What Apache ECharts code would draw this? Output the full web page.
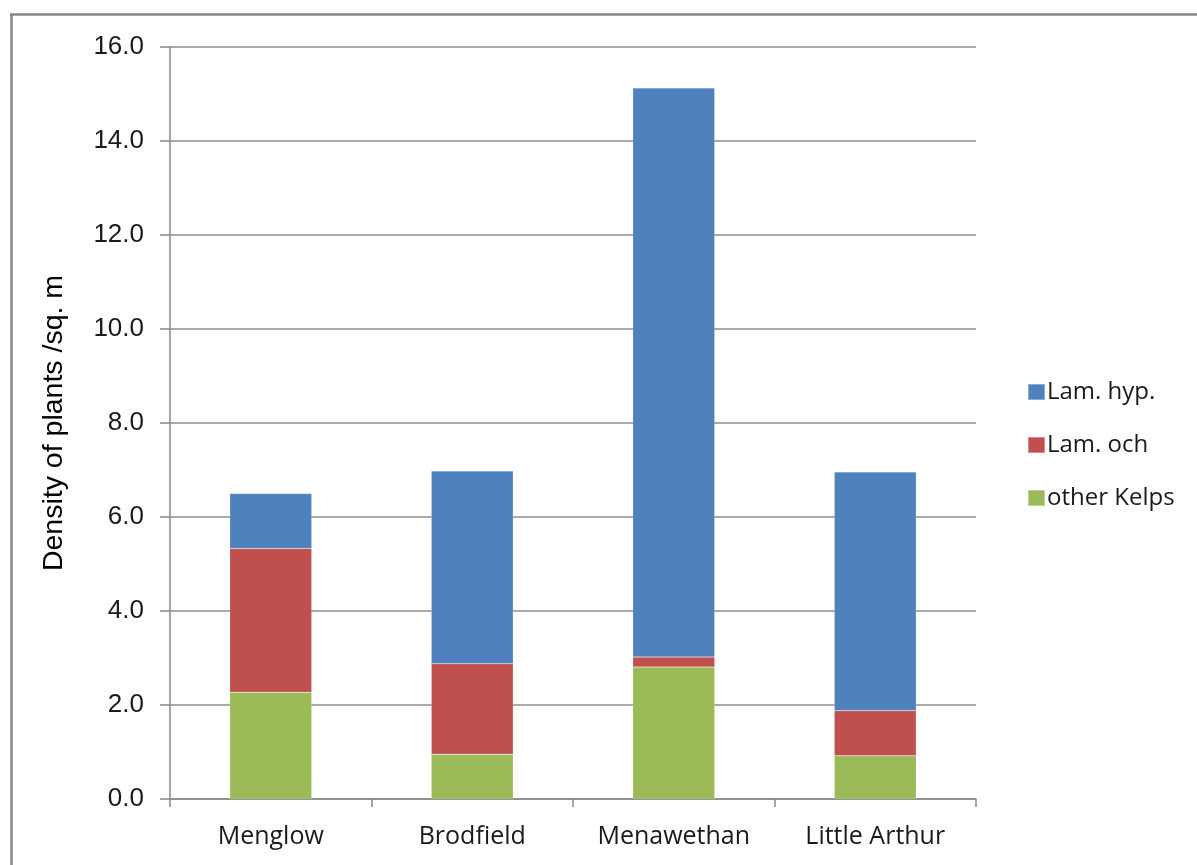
<!DOCTYPE html>
<html>
<head>
<meta charset="utf-8">
<script src="https://cdn.jsdelivr.net/npm/echarts@6/dist/echarts.min.js"></script>
<style>
  html, body { margin: 0; padding: 0; background: #ffffff; }
  #chart { width: 1197px; height: 865px; }
</style>
</head>
<body>
<div id="chart"></div>
<script>
// Kelp plant density per site, stacked by species group
const sites = ['Menglow', 'Brodfield', 'Menawethan', 'Little Arthur'];
const otherKelps = [2.27, 0.95, 2.81, 0.92];
const lamOch = [3.06, 1.93, 0.21, 0.96];
const lamHyp = [1.17, 4.10, 12.11, 5.08];
const yTicks = [0, 2, 4, 6, 8, 10, 12, 14, 16];

const chart = echarts.init(document.getElementById('chart'), null, { renderer: 'canvas' });

const labelFont = '"Open Sans", Lato, sans-serif';
const numFont = '"Liberation Sans", Arial, sans-serif';

const barStyle = (color) => ({
  color: color,
  borderColor: 'rgba(255,255,255,0.35)',
  borderWidth: 0.5
});

chart.setOption({
  animation: false,
  backgroundColor: '#ffffff',
  grid: { left: 170, top: 47, width: 806, height: 752, containLabel: false },
  legend: {
    orient: 'vertical',
    left: 1022,
    top: 375,
    itemWidth: 17,
    itemHeight: 16,
    itemGap: 29,
    icon: 'rect',
    data: ['Lam. hyp.', 'Lam. och', 'other Kelps'],
    textStyle: { fontFamily: labelFont, fontSize: 24, color: '#1a1a1a', padding: [0, 0, 0, -3] }
  },
  xAxis: {
    type: 'category',
    data: sites,
    axisLine: { lineStyle: { color: '#888888', width: 1.5 } },
    axisTick: { show: true, length: 8, alignWithLabel: false, lineStyle: { color: '#888888', width: 1.5 } },
    axisLabel: { fontFamily: labelFont, fontSize: 25, color: '#1a1a1a', margin: 25 }
  },
  yAxis: {
    type: 'value',
    min: yTicks[0],
    max: yTicks[yTicks.length - 1],
    interval: 2,
    name: 'Density of plants /sq. m',
    nameLocation: 'middle',
    nameGap: 101,
    nameRotate: 90,
    nameTextStyle: { fontFamily: numFont, fontSize: 28.5, color: '#000000' },
    axisLine: { show: true, lineStyle: { color: '#888888', width: 1.5 } },
    axisTick: { show: true, length: 10, lineStyle: { color: '#888888', width: 1.5 } },
    axisLabel: {
      fontFamily: numFont, fontSize: 26, color: '#1a1a1a', margin: 26,
      formatter: (v) => v.toFixed(1)
    },
    splitLine: { show: true, lineStyle: { color: '#8c8c8c', width: 1.5 } }
  },
  series: [
    { name: 'other Kelps', type: 'bar', stack: 'kelp', barWidth: '40.7%', data: otherKelps, itemStyle: barStyle('#9bbb59') },
    { name: 'Lam. och', type: 'bar', stack: 'kelp', barWidth: '40.7%', data: lamOch, itemStyle: barStyle('#c0504d') },
    { name: 'Lam. hyp.', type: 'bar', stack: 'kelp', barWidth: '40.7%', data: lamHyp, itemStyle: barStyle('#4f81bd') }
  ],
  graphic: [
    { type: 'line', shape: { x1: 11.5, y1: 14, x2: 11.5, y2: 865 }, style: { stroke: '#868686', lineWidth: 2.5 } },
    { type: 'line', shape: { x1: 10, y1: 14.5, x2: 1197, y2: 14.5 }, style: { stroke: '#868686', lineWidth: 2.5 } }
  ]
});
</script>
</body>
</html>
